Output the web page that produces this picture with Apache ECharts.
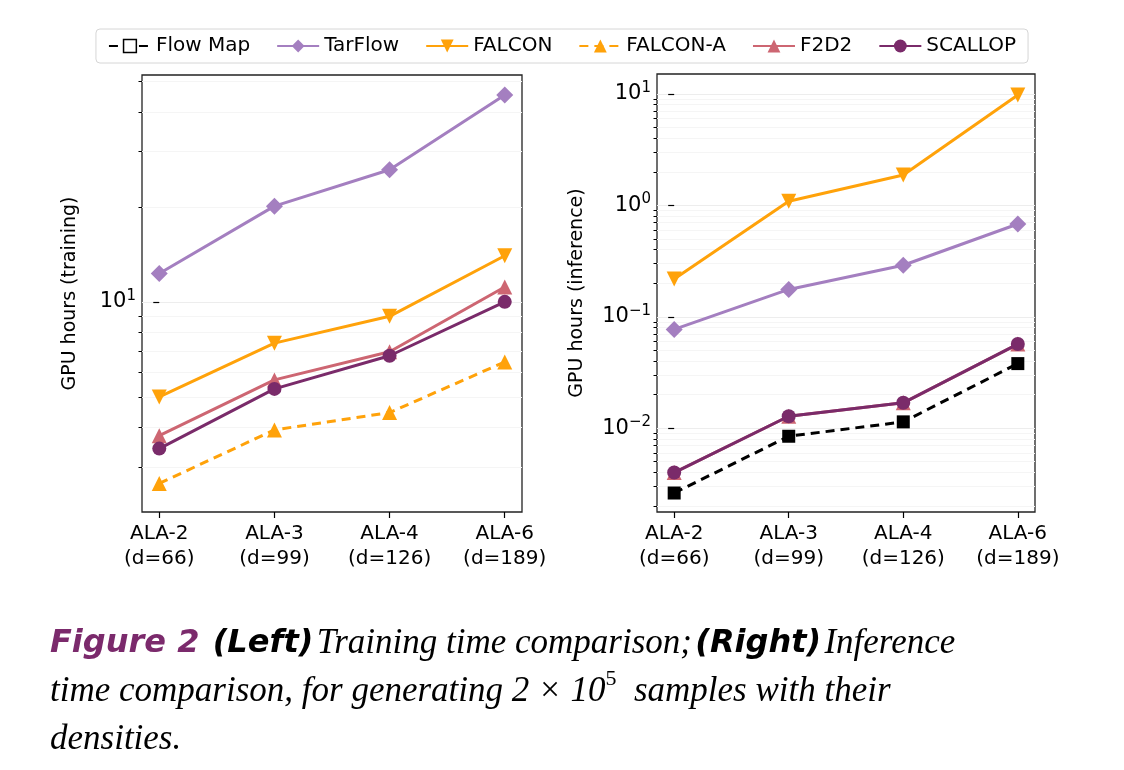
<!DOCTYPE html>
<html>
<head>
<meta charset="utf-8">
<script src="https://cdn.jsdelivr.net/npm/echarts@6/dist/echarts.min.js"></script>
<style>
  html, body { margin: 0; padding: 0; background: #fff; }
  #chart { width: 1124px; height: 770px; }
</style>
</head>
<body>
<div id="chart"></div>
<script>
// categories (x axis)
var categories = ['ALA-2\n(d=66)', 'ALA-3\n(d=99)', 'ALA-4\n(d=126)', 'ALA-6\n(d=189)'];

// left panel: training GPU hours
var trainTarFlow  = [12.3, 20.1, 26.2, 45.2];
var trainFalcon   = [5.0, 7.4, 9.0, 14.0];
var trainFalconA  = [2.66, 3.93, 4.46, 6.45];
var trainF2D2     = [3.77, 5.66, 6.95, 11.15];
var trainScallop  = [3.43, 5.3, 6.75, 10.0];

// right panel: inference GPU hours
var infFlowMap  = [0.00262, 0.00847, 0.0114, 0.038];
var infTarFlow  = [0.077, 0.176, 0.29, 0.68];
var infFalcon   = [0.218, 1.09, 1.87, 9.8];
var infF2D2     = [0.0040, 0.0128, 0.0169, 0.0569];
var infScallop  = [0.0040, 0.0128, 0.0169, 0.0569];

var leftMajor = [10];
var leftMinor = [3, 4, 5, 6, 7, 8, 9, 20, 30, 40, 50];
var rightMajor = [0.01, 0.1, 1, 10];
var rightMinor = [0.002, 0.003, 0.004, 0.005, 0.006, 0.007, 0.008, 0.009,
  0.02, 0.03, 0.04, 0.05, 0.06, 0.07, 0.08, 0.09,
  0.2, 0.3, 0.4, 0.5, 0.6, 0.7, 0.8, 0.9,
  2, 3, 4, 5, 6, 7, 8, 9];

var colors = {
  flowmap: '#000000',
  tarflow: '#a47fc0',
  falcon: '#ffa20a',
  f2d2: '#cd6672',
  scallop: '#7a2b6a'
};

var FONT = 'DejaVu Sans';

function pts(arr) {
  return arr.map(function (v, i) { return [i, v]; });
}

function powLabel(v) {
  var e = Math.round(Math.log10(v));
  return '10{s|' + (e < 0 ? '\u2212' + (-e) : e) + '}';
}

function xAxisFor(gi) {
  return {
    gridIndex: gi, type: 'value', min: -0.15, max: 3.15,
    axisLine: { show: false },
    splitLine: { show: false },
    axisTick: { show: true, customValues: [0, 1, 2, 3], length: 6, lineStyle: { color: '#000', width: 1.2 } },
    axisLabel: {
      customValues: [0, 1, 2, 3], color: '#000', fontSize: 20, fontFamily: FONT, lineHeight: 25, margin: 9,
      formatter: function (v) { return categories[Math.round(v)]; }
    }
  };
}

function yAxesFor(gi, min, max, major, minor, name) {
  return [{
    gridIndex: gi, type: 'log', logBase: 10, min: min, max: max,
    name: name, nameLocation: 'middle', nameGap: gi === 0 ? 62 : 70,
    nameTextStyle: { color: '#000', fontSize: 19, fontFamily: FONT },
    axisLine: { show: false },
    axisTick: { show: true, customValues: major, length: 6, lineStyle: { color: '#000', width: 1.2 } },
    axisLabel: {
      customValues: major, color: '#000', fontSize: 21, fontFamily: FONT, formatter: powLabel, margin: 6,
      rich: { s: { fontSize: 15, verticalAlign: 'top', padding: [0, 0, 12, 0], fontFamily: FONT } }
    },
    splitLine: { show: true, lineStyle: { color: '#ededed', width: 1 } }
  }, {
    gridIndex: gi, type: 'log', logBase: 10, min: min, max: max, position: 'left',
    axisLine: { show: false },
    axisTick: { show: true, customValues: minor, length: 3.5, lineStyle: { color: '#000', width: 1 } },
    axisLabel: { show: false },
    splitLine: { show: true, customValues: minor, lineStyle: { color: '#f5f5f5', width: 1 } }
  }];
}

function line(name, data, color, symbol, xi, yi, opts) {
  opts = opts || {};
  return {
    name: name, type: 'line', xAxisIndex: xi, yAxisIndex: yi, data: pts(data),
    symbol: symbol, symbolSize: opts.size || 15, symbolRotate: opts.rotate || 0,
    lineStyle: { color: color, width: 3, type: opts.dashed ? [9, 6] : 'solid' },
    itemStyle: { color: color },
    z: opts.z || 2
  };
}

var chart = echarts.init(document.getElementById('chart'));

var option = {
  backgroundColor: '#fff',
  animation: false,
  legend: {
    top: 29, left: 'center', itemGap: 26, itemWidth: 42, itemHeight: 16,
    padding: [7, 12], borderColor: '#d6d6d6', borderWidth: 1, borderRadius: 4,
    textStyle: { color: '#000', fontSize: 20, fontFamily: FONT },
    data: [
      { name: 'Flow Map', itemStyle: { color: '#fff', borderColor: '#000', borderWidth: 1.5 } },
      'TarFlow', 'FALCON', 'FALCON-A', 'F2D2', 'SCALLOP'
    ]
  },
  grid: [
    { left: 142, top: 75, width: 380, height: 437, show: true, borderColor: '#222', borderWidth: 1.3 },
    { left: 657, top: 74, width: 378, height: 438, show: true, borderColor: '#222', borderWidth: 1.3 }
  ],
  xAxis: [xAxisFor(0), xAxisFor(1)],
  yAxis: yAxesFor(0, 2.16, 52.3, leftMajor, leftMinor, 'GPU hours (training)')
    .concat(yAxesFor(1, 0.00177, 15.1, rightMajor, rightMinor, 'GPU hours (inference)')),
  series: [
    line('TarFlow', trainTarFlow, colors.tarflow, 'diamond', 0, 0, { size: 17 }),
    line('FALCON', trainFalcon, colors.falcon, 'triangle', 0, 0, { rotate: 180 }),
    line('FALCON-A', trainFalconA, colors.falcon, 'triangle', 0, 0, { dashed: true }),
    line('F2D2', trainF2D2, colors.f2d2, 'triangle', 0, 0),
    line('SCALLOP', trainScallop, colors.scallop, 'circle', 0, 0, { z: 3, size: 14 }),

    line('Flow Map', infFlowMap, colors.flowmap, 'rect', 1, 2, { dashed: true, size: 13 }),
    line('TarFlow', infTarFlow, colors.tarflow, 'diamond', 1, 2, { size: 17 }),
    line('FALCON', infFalcon, colors.falcon, 'triangle', 1, 2, { rotate: 180 }),
    line('F2D2', infF2D2, colors.f2d2, 'triangle', 1, 2),
    line('SCALLOP', infScallop, colors.scallop, 'circle', 1, 2, { z: 3, size: 14 })
  ],
  graphic: [{
    type: 'text', left: 50, top: 620,
    style: {
      text: '{fig|Figure 2}    {b|(Left)} {i|Training time comparison;} {b|(Right)} {i|Inference}\n' +
            '{i|time comparison, for generating 2 \u00d7 10}{sup|5}{i|  samples with their}\n' +
            '{i|densities.}',
      lineHeight: 48,
      rich: {
        fig: { fontSize: 32, fontWeight: 'bold', fontStyle: 'italic', fontFamily: FONT, fill: '#7b2a6c', lineHeight: 48 },
        b: { fontSize: 32, fontWeight: 'bold', fontStyle: 'italic', fontFamily: FONT, fill: '#000', lineHeight: 48 },
        i: { fontSize: 35, fontStyle: 'italic', fontFamily: 'Liberation Serif', fill: '#000', lineHeight: 48 },
        sup: { fontSize: 22, fontFamily: 'Liberation Serif', fill: '#000', verticalAlign: 'top', padding: [0, 0, 20, 0] }
      }
    }
  }]
};

chart.setOption(option);
</script>
</body>
</html>
